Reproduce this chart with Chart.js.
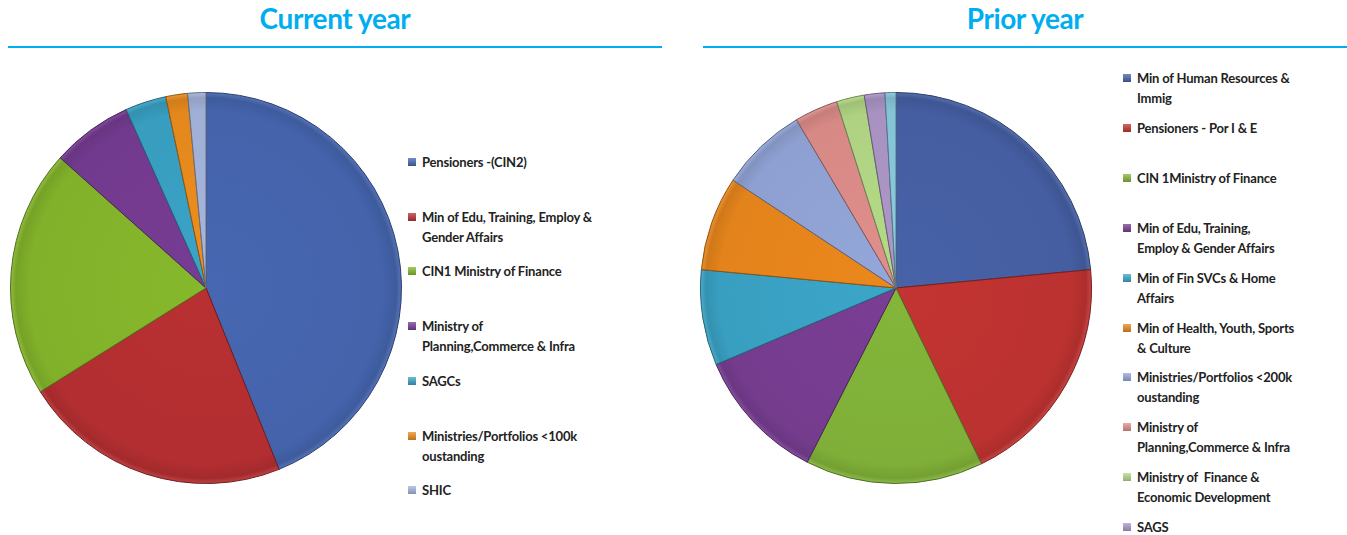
<!DOCTYPE html>
<html>
<head>
<meta charset="utf-8">
<script src="https://cdn.jsdelivr.net/npm/chart.js@4"></script>
<style>
  body { margin: 0; background: #fff; width: 1347px; height: 535px; overflow: hidden; position: relative; font-family: Lato, sans-serif; }
  .title { position: absolute; top: 1px; font: 700 28px Lato, sans-serif; color: #00AEEF; text-align: center; letter-spacing: -0.4px; }
  .rule { position: absolute; top: 46px; height: 2px; background: #00AEEF; }
  .box { position: absolute; }
  .legend { position: absolute; }
  .legend .item { position: absolute; left: 0; font: 700 13px Lato, sans-serif; color: #222; line-height: 20px; white-space: pre; letter-spacing: -0.2px; }
  .legend .sw { position: absolute; left: 0; top: 6px; width: 8px; height: 8px; }
  .legend .txt { position: absolute; left: 14px; top: 0; }
</style>
</head>
<body>
<div class="title" style="left:8px;width:654px;">Current year</div>
<div class="rule" style="left:8px;width:654px;"></div>
<div class="title" style="left:703px;width:644px;">Prior year</div>
<div class="rule" style="left:703px;width:644px;"></div>

<div class="box" style="left:10px;top:92px;width:392px;height:392px;"><canvas id="current-chart"></canvas></div>
<div class="legend" id="current-legend" style="left:408px;top:152px;"></div>
<div class="box" style="left:700px;top:92px;width:392px;height:392px;"><canvas id="prior-chart"></canvas></div>
<div class="legend" id="prior-legend" style="left:1123px;top:68px;"></div>

<script>
// current year
const currentLabels = [
    'Pensioners -(CIN2)',
    ['Min of Edu, Training, Employ &', 'Gender Affairs'],
    'CIN1 Ministry of Finance',
    ['Ministry of', 'Planning,Commerce & Infra'],
    'SAGCs',
    ['Ministries/Portfolios <100k', 'oustanding'],
    'SHIC'
];
const currentValues = [43.9, 22.2, 20.5, 6.7, 3.4, 1.8, 1.5];
const currentColors = ['#4767B2', '#B93032', '#86B82C', '#773C94', '#3AA4C7', '#EE8E1E', '#A7B6DE'];

// prior year (last slice is cut off in the legend)
const priorLabels = [
    ['Min of Human Resources &', 'Immig'],
    'Pensioners - Por I & E',
    'CIN 1Ministry of Finance',
    ['Min of Edu, Training,', 'Employ & Gender Affairs'],
    ['Min of Fin SVCs & Home', 'Affairs'],
    ['Min of Health, Youth, Sports', '& Culture'],
    ['Ministries/Portfolios <200k', 'oustanding'],
    ['Ministry of', 'Planning,Commerce & Infra'],
    ['Ministry of  Finance &', 'Economic Development'],
    'SAGS',
    'SHIC'
];
const priorValues = [23.5, 19.3, 14.7, 11.1, 7.9, 7.8, 7.2, 3.6, 2.3, 1.7, 0.9];
const priorColors = ['#4862A8', '#C33432', '#84B63A', '#7A3E94', '#3BA6C9', '#EC881C', '#94A7DA', '#E08F8C', '#B5DB87', '#AE98C9', '#8BCBE0'];

function shade(hex, f) {
    const n = parseInt(hex.slice(1), 16);
    let r = (n >> 16) & 255, g = (n >> 8) & 255, b = n & 255;
    const t = f < 0 ? 0 : 255, p = Math.abs(f);
    r = Math.round(r + (t - r) * p); g = Math.round(g + (t - g) * p); b = Math.round(b + (t - b) * p);
    return `rgb(${r},${g},${b})`;
}

function sliceFill(colors) {
    return function(context) {
        const base = colors[context.dataIndex];
        const area = context.chart.chartArea;
        if (!area) return base;
        const cx = (area.left + area.right) / 2, cy = (area.top + area.bottom) / 2;
        const r = Math.min(area.right - area.left, area.bottom - area.top) / 2;
        const g = context.chart.ctx.createRadialGradient(cx, cy, 0, cx, cy, r);
        g.addColorStop(0, base);
        g.addColorStop(0.9, shade(base, -0.04));
        g.addColorStop(0.97, shade(base, -0.12));
        g.addColorStop(1, shade(base, 0.1));
        return g;
    };
}

function buildLegend(el, labels, colors, step, count) {
    for (let i = 0; i < count; i++) {
        const item = document.createElement('div');
        item.className = 'item';
        item.style.top = (i * step) + 'px';
        const sw = document.createElement('div');
        sw.className = 'sw';
        sw.style.background = `linear-gradient(${shade(colors[i], 0.25)}, ${shade(colors[i], -0.2)})`;
        const txt = document.createElement('div');
        txt.className = 'txt';
        const lines = Array.isArray(labels[i]) ? labels[i] : [labels[i]];
        lines.forEach(line => {
            const d = document.createElement('div');
            d.textContent = line;
            txt.appendChild(d);
        });
        item.appendChild(sw);
        item.appendChild(txt);
        el.appendChild(item);
    }
}

function makePie(id, labels, values, colors) {
    return new Chart(document.getElementById(id).getContext('2d'), {
        type: 'pie',
        data: {
            labels: labels,
            datasets: [{
                data: values,
                backgroundColor: sliceFill(colors),
                borderColor: colors.map(c => shade(c, -0.4)),
                borderWidth: 1
            }]
        },
        options: {
            responsive: true,
            maintainAspectRatio: false,
            animation: false,
            layout: { padding: 0 },
            plugins: {
                legend: { display: false },
                tooltip: { enabled: true }
            }
        }
    });
}

makePie('current-chart', currentLabels, currentValues, currentColors);
makePie('prior-chart', priorLabels, priorValues, priorColors);
buildLegend(document.getElementById('current-legend'), currentLabels, currentColors, 54.7, currentLabels.length);
buildLegend(document.getElementById('prior-legend'), priorLabels, priorColors, 49.9, 10);
</script>
</body>
</html>
